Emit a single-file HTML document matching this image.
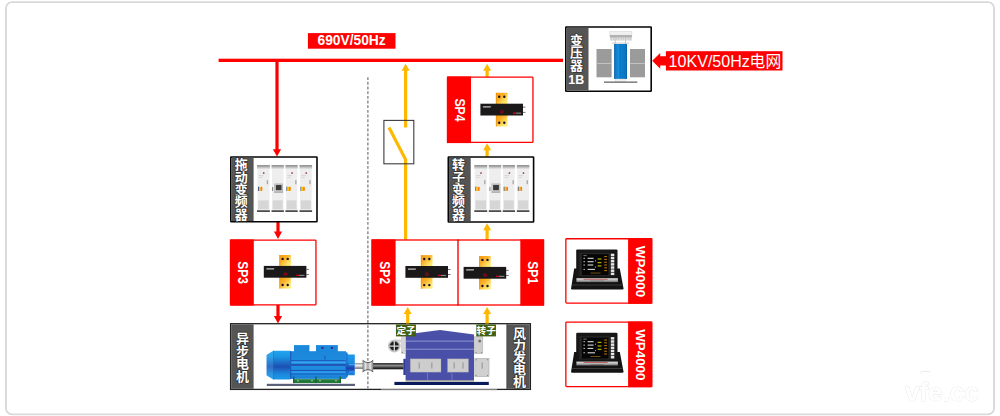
<!DOCTYPE html>
<html lang="zh"><head><meta charset="utf-8"><title>Wind power generator test bench diagram</title>
<style>html,body{margin:0;padding:0;background:#fff}body{width:1000px;height:416px;overflow:hidden;font-family:"Liberation Sans","Noto Sans CJK SC",sans-serif}svg{display:block}text{font-family:"Liberation Sans","Noto Sans CJK SC",sans-serif}</style>
</head><body>
<svg width="1000" height="416" viewBox="0 0 1000 416">
<defs>
<linearGradient id="gold" x1="0" y1="0" x2="1" y2="1">
<stop offset="0" stop-color="#f59a0e"/><stop offset="0.4" stop-color="#fbb22a"/><stop offset="0.7" stop-color="#ffdf62"/><stop offset="1" stop-color="#fff284"/></linearGradient>
<linearGradient id="silver" x1="0" y1="0" x2="0" y2="1"><stop offset="0" stop-color="#e4e4e4"/><stop offset="0.5" stop-color="#b4b4b4"/><stop offset="1" stop-color="#6e6e6e"/></linearGradient>
<linearGradient id="cap" x1="0" y1="0" x2="0" y2="1"><stop offset="0" stop-color="#22a4ee"/><stop offset="0.22" stop-color="#1c93e2"/><stop offset="0.55" stop-color="#1d4fb2"/><stop offset="0.8" stop-color="#1b86dc"/><stop offset="1" stop-color="#1a9ae6"/></linearGradient>
<linearGradient id="mbody" x1="0" y1="0" x2="0" y2="1"><stop offset="0" stop-color="#1b86da"/><stop offset="0.5" stop-color="#1f8de0"/><stop offset="1" stop-color="#1a82d6"/></linearGradient>
<linearGradient id="shaftL" x1="0" y1="0" x2="0" y2="1"><stop offset="0" stop-color="#8a8a8a"/><stop offset="0.4" stop-color="#f4f4f4"/><stop offset="1" stop-color="#6e6e6e"/></linearGradient>
<linearGradient id="shaftD" x1="0" y1="0" x2="0" y2="1"><stop offset="0" stop-color="#1a1a1a"/><stop offset="0.45" stop-color="#9a9a9a"/><stop offset="0.6" stop-color="#555"/><stop offset="1" stop-color="#0c0c0c"/></linearGradient>
<linearGradient id="flange" x1="0" y1="0" x2="0" y2="1"><stop offset="0" stop-color="#1d9ff0"/><stop offset="0.4" stop-color="#1b8ee2"/><stop offset="0.62" stop-color="#1c3fb0"/><stop offset="0.78" stop-color="#1b7ad6"/><stop offset="1" stop-color="#1a98e8"/></linearGradient>
<linearGradient id="coup" x1="0" y1="0" x2="1" y2="0"><stop offset="0" stop-color="#7a7a7a"/><stop offset="0.28" stop-color="#e8e8e8"/><stop offset="0.5" stop-color="#a4a4a4"/><stop offset="0.72" stop-color="#e8e8e8"/><stop offset="1" stop-color="#7a7a7a"/></linearGradient>
<linearGradient id="bluecol" x1="0" y1="0" x2="1" y2="0"><stop offset="0" stop-color="#085a9c"/><stop offset="0.1" stop-color="#0a7ac8"/><stop offset="0.35" stop-color="#1a8fdc"/><stop offset="0.52" stop-color="#0c7ecc"/><stop offset="0.9" stop-color="#0876c2"/><stop offset="1" stop-color="#075a98"/></linearGradient>


<symbol id="sensor" overflow="visible">
  <rect x="-5.8" y="-16.8" width="11.6" height="12" fill="url(#gold)"/>
  <rect x="-5.8" y="4.8" width="11.6" height="12" fill="url(#gold)"/>
  <rect x="-5.8" y="-16.8" width="1" height="33.6" fill="#f08c08" opacity="0.6"/>
  <circle cx="-2.5" cy="-12.9" r="1.2" fill="#10102a"/><circle cx="2.6" cy="-12.9" r="1.2" fill="#10102a"/>
  <circle cx="-2.5" cy="13.2" r="1.2" fill="#10102a"/><circle cx="2.6" cy="13.2" r="1.2" fill="#10102a"/>
  <rect x="21.2" y="-2.9" width="2.6" height="0.8" fill="#555"/><rect x="21.2" y="2.3" width="2.6" height="0.8" fill="#555"/>
  <rect x="-21.3" y="-5.9" width="42.6" height="11.8" fill="#1b1819"/>
  <path d="M-18.9 -2.2h7.8l.4-1.25h-7.8z" fill="#e2e2e2" opacity="0.85"/>
  <circle cx="0.2" cy="2.3" r="1.35" fill="none" stroke="#c4001a" stroke-width="0.75"/>
  <rect x="11.2" y="2.9" width="2.6" height="1.3" fill="#e00018"/>
  <rect x="14" y="3" width="5.4" height="1.1" fill="#8a8a8a"/>
</symbol>
</defs>
<rect x="6" y="2.1" width="988" height="412.3" rx="6" ry="6" fill="#fff" stroke="#d9d9d9" stroke-width="1.9"/>
<text x="905" y="401" font-size="26" font-weight="bold" fill="#ffffff" stroke="#f1f1f1" stroke-width="0.5" style="paint-order:stroke;filter:drop-shadow(0.9px 0.9px 0.4px #dcdcdc)">vfe.cc</text>
<path d="M920.5 372.2Q925 370.4 930 371.8" fill="none" stroke="#e6e6e6" stroke-width="0.9"/>
<line x1="367.9" y1="77.2" x2="367.9" y2="388" stroke="#6e6e6e" stroke-width="1.15" stroke-dasharray="2.9 1.77"/>
<rect x="218.60" y="58.70" width="344.40" height="3.30" fill="#ff0000" />
<rect x="307.90" y="33.10" width="87.60" height="15.60" fill="#ff0000" />
<text x="351.6" y="45.4" text-anchor="middle" font-size="13.8" font-weight="bold" fill="#fff">690V/50Hz</text>
<path fill="#ff0000" d="M277.00 156.60L281.10 149.20H278.60V61.00H275.40V149.20H272.90Z"/>
<path fill="#ff0000" d="M278.00 239.00L282.10 231.60H279.60V222.00H276.40V231.60H273.90Z"/>
<path fill="#ff0000" d="M278.00 323.40L282.10 316.00H279.60V305.00H276.40V316.00H273.90Z"/>
<rect x="230.80" y="157.00" width="86.20" height="64.80" fill="#fff" stroke="#050505" stroke-width="1.6" rx="0.5"/><rect x="231.55" y="157.80" width="22.05" height="63.20" fill="#555555" />
<g transform="translate(0 0)"><rect x="257.00" y="165.10" width="12.90" height="1.70" fill="#8c8c8c" /><rect x="257.00" y="166.80" width="12.90" height="1.90" fill="#c4c4c4" /><rect x="257.40" y="168.70" width="12.10" height="41.60" fill="#eeeeee" /><rect x="258.20" y="200.40" width="10.50" height="8.80" fill="#d6d6d6" /><rect x="257.00" y="210.30" width="12.90" height="1.60" fill="#3a3a3a" /><circle cx="263.70" cy="173" r="0.85" fill="#8a1f35"/><rect x="258.80" y="175.40" width="4.60" height="0.70" fill="#c9c9c9" /><rect x="258.80" y="177.00" width="3.40" height="0.70" fill="#cfcfcf" /><rect x="266.80" y="180.20" width="1.30" height="4.00" fill="#a5a5a5" /><rect x="258.00" y="186.70" width="1.00" height="4.30" fill="#4a5a7a" /><rect x="259.00" y="186.70" width="1.60" height="4.30" fill="#ffc400" /><rect x="260.60" y="186.90" width="1.70" height="3.90" fill="#ff7a00" /><rect x="271.50" y="165.10" width="12.40" height="1.70" fill="#8c8c8c" /><rect x="271.50" y="166.80" width="12.40" height="1.90" fill="#c4c4c4" /><rect x="271.90" y="168.70" width="11.60" height="41.60" fill="#eeeeee" /><rect x="272.70" y="200.40" width="10.00" height="8.80" fill="#d6d6d6" /><rect x="271.50" y="210.30" width="12.40" height="1.60" fill="#3a3a3a" /><rect x="272.20" y="187.00" width="0.90" height="4.00" fill="#777" /><rect x="274.20" y="183.50" width="8.80" height="9.50" fill="#b4b4b4" /><rect x="275.10" y="184.40" width="7.00" height="6.80" fill="#e2e2e2" /><rect x="275.80" y="184.90" width="5.80" height="5.40" fill="#3a3a3a" /><rect x="285.40" y="165.10" width="12.30" height="1.70" fill="#8c8c8c" /><rect x="285.40" y="166.80" width="12.30" height="1.90" fill="#c4c4c4" /><rect x="285.80" y="168.70" width="11.50" height="41.60" fill="#eeeeee" /><rect x="286.60" y="200.40" width="9.90" height="8.80" fill="#d6d6d6" /><rect x="285.40" y="210.30" width="12.30" height="1.60" fill="#3a3a3a" /><circle cx="292.10" cy="173" r="0.85" fill="#8a1f35"/><rect x="287.20" y="175.40" width="4.60" height="0.70" fill="#c9c9c9" /><rect x="287.20" y="177.00" width="3.40" height="0.70" fill="#cfcfcf" /><rect x="295.20" y="180.20" width="1.30" height="4.00" fill="#a5a5a5" /><rect x="286.40" y="186.70" width="1.00" height="4.30" fill="#4a5a7a" /><rect x="287.40" y="186.70" width="1.60" height="4.30" fill="#ffc400" /><rect x="289.00" y="186.90" width="1.70" height="3.90" fill="#ff7a00" /><rect x="299.50" y="165.10" width="12.60" height="1.70" fill="#8c8c8c" /><rect x="299.50" y="166.80" width="12.60" height="1.90" fill="#c4c4c4" /><rect x="299.90" y="168.70" width="11.80" height="41.60" fill="#eeeeee" /><rect x="300.70" y="200.40" width="10.20" height="8.80" fill="#d6d6d6" /><rect x="299.50" y="210.30" width="12.60" height="1.60" fill="#3a3a3a" /><circle cx="306.20" cy="173" r="0.85" fill="#8a1f35"/><rect x="301.30" y="175.40" width="4.60" height="0.70" fill="#c9c9c9" /><rect x="301.30" y="177.00" width="3.40" height="0.70" fill="#cfcfcf" /><rect x="309.30" y="180.20" width="1.30" height="4.00" fill="#a5a5a5" /><rect x="300.50" y="186.70" width="1.00" height="4.30" fill="#4a5a7a" /><rect x="301.50" y="186.70" width="1.60" height="4.30" fill="#ffc400" /><rect x="303.10" y="186.90" width="1.70" height="3.90" fill="#ff7a00" /></g>
<text text-anchor="middle" font-size="13" font-weight="bold" fill="#fff" stroke="#2a2a2a" stroke-opacity="0.75" stroke-width="1.7" stroke-linejoin="round" style="paint-order:stroke"><tspan x="241.35" y="169.45">拖</tspan><tspan x="241.35" y="181.75">动</tspan><tspan x="241.35" y="194.05">变</tspan><tspan x="241.35" y="206.35">频</tspan><tspan x="241.35" y="218.65">器</tspan></text>
<rect x="230.55" y="240.05" width="85.40" height="64.90" fill="#fff" stroke="#ff0000" stroke-width="1.3" rx="0.8"/><rect x="229.90" y="239.40" width="23.90" height="66.20" fill="#ff0000" />
<text transform="translate(238.00 272.60) rotate(90) scale(0.900 1.085)" text-anchor="middle" font-size="13.4" font-weight="bold" fill="#fff">SP3</text>
<use href="#sensor" x="285.1" y="271.8"/>
<rect x="230.60" y="323.70" width="299.80" height="65.70" fill="#fff" stroke="#222" stroke-width="1.3"/>
<rect x="231.20" y="324.30" width="22.40" height="64.50" fill="#555555" />
<rect x="507.30" y="324.30" width="22.50" height="64.50" fill="#555555" />
<rect x="506.50" y="324.30" width="1.00" height="64.50" fill="#1a1a1a" />
<text text-anchor="middle" font-size="13" font-weight="bold" fill="#fff" stroke="#2a2a2a" stroke-opacity="0.75" stroke-width="1.7" stroke-linejoin="round" style="paint-order:stroke"><tspan x="242.5" y="343.15">异</tspan><tspan x="242.5" y="355.75">步</tspan><tspan x="242.5" y="368.35">电</tspan><tspan x="242.5" y="380.95">机</tspan></text>
<text text-anchor="middle" font-size="13" font-weight="bold" fill="#fff" stroke="#2a2a2a" stroke-opacity="0.75" stroke-width="1.7" stroke-linejoin="round" style="paint-order:stroke"><tspan x="519.6" y="337.5">风</tspan><tspan x="519.6" y="349.5">力</tspan><tspan x="519.6" y="361.5">发</tspan><tspan x="519.6" y="373.5">电</tspan><tspan x="519.6" y="385.5">机</tspan></text>
<line x1="367.9" y1="325.2" x2="367.9" y2="388.5" stroke="#6e6e6e" stroke-width="1.15" stroke-dasharray="2.9 1.77"/>
<rect x="381.00" y="388.75" width="116.00" height="0.50" fill="#fff" />
<rect x="381.00" y="389.25" width="116.00" height="0.85" fill="#8a8a8a" />
<g>
<rect x="294.00" y="345.10" width="15.40" height="6.90" fill="#1c88dc" />
<rect x="316.00" y="345.10" width="21.80" height="6.90" fill="#1c88dc" />
<rect x="294.00" y="345.10" width="15.40" height="0.80" fill="#2a98e6" />
<rect x="316.00" y="345.10" width="21.80" height="0.80" fill="#2a98e6" />
<circle cx="322.5" cy="347.9" r="1.15" fill="#3f1f72"/><circle cx="331.9" cy="347.9" r="1.15" fill="#3f1f72"/>
<path d="M266.6 355.4Q266.6 354.9 267.2 354.5L273.4 350.7H290.2V379.6H273.4L267.2 375.8Q266.6 375.4 266.6 374.8Z" fill="url(#cap)"/>
<path d="M266.6 355.4Q266.6 354.9 267.2 354.5L273.4 350.7V379.6L267.2 375.8Q266.6 375.4 266.6 374.8Z" fill="#5cc0f8" opacity="0.28"/>
<rect x="273.20" y="350.70" width="0.70" height="28.90" fill="#1560b8" opacity="0.5"/>
<rect x="290.00" y="351.20" width="56.00" height="27.70" fill="url(#mbody)" />
<rect x="290.00" y="360.30" width="56.40" height="0.90" fill="#1b4cb4" />
<rect x="290.00" y="361.40" width="56.40" height="1.80" fill="#34a2ee" />
<rect x="290.00" y="364.30" width="56.40" height="1.30" fill="#26389c" />
<rect x="290.00" y="370.00" width="56.40" height="0.90" fill="#1b4cb4" />
<rect x="290.00" y="371.10" width="56.40" height="1.80" fill="#2e9cea" />
<rect x="290.00" y="373.60" width="56.40" height="0.80" fill="#1b58bc" />
<rect x="290.00" y="351.20" width="1.30" height="27.70" fill="#1a5fc0" />
<rect x="324.50" y="355.80" width="0.80" height="3.80" fill="#1c46a8" />
<path d="M345.6 351.2L348.2 354.6H354.8V375.3H348.2L345.6 378.9Z" fill="url(#flange)"/>
<rect x="346.20" y="352.40" width="1.40" height="25.20" fill="#1b58bc" opacity="0.55"/>
<rect x="349.20" y="364.20" width="5.60" height="1.00" fill="#4ab0f2" />
<rect x="349.20" y="371.40" width="5.60" height="0.90" fill="#3ea6ee" />
<rect x="293.00" y="379.20" width="48.00" height="3.90" fill="#1f7a3a" />
<rect x="293.00" y="376.60" width="1.40" height="6.50" fill="#14662c" />
<rect x="315.20" y="376.60" width="1.40" height="6.50" fill="#14662c" />
<rect x="339.60" y="376.60" width="1.40" height="6.50" fill="#14662c" />
<rect x="297.00" y="380.40" width="2.00" height="0.80" fill="#d8c8b0" />
<rect x="311.00" y="380.40" width="2.00" height="0.80" fill="#d8c8b0" />
<rect x="319.00" y="380.40" width="2.00" height="0.80" fill="#d8c8b0" />
<rect x="335.00" y="380.40" width="2.00" height="0.80" fill="#d8c8b0" />
<rect x="266.80" y="383.80" width="88.20" height="2.20" fill="#5a6078" />
<rect x="354.90" y="363.10" width="8.50" height="5.80" fill="url(#shaftL)" />
<rect x="372.60" y="363.10" width="31.00" height="6.20" fill="url(#shaftD)" />
<path d="M362.6 360.3Q367.9 365.0 373.2 360.3V371.9Q367.9 367.4 362.6 371.9Z" fill="url(#coup)"/>
<path d="M362.6 360.3Q367.9 365.0 373.2 360.3M362.6 371.9Q367.9 367.4 373.2 371.9" fill="none" stroke="#4c4c4c" stroke-width="0.9"/>
</g>
<g>
<rect x="394.40" y="381.90" width="94.40" height="3.10" fill="#0a1a5a" />
<rect x="405.60" y="380.00" width="68.40" height="1.60" fill="#9a9a9a" />
<path d="M405.6 334.4L440 330L474 334.6V380H405.6Z" fill="#4a50a8"/>
<rect x="405.60" y="340.50" width="68.40" height="1.30" fill="#7e84cc" />
<rect x="405.60" y="348.60" width="68.40" height="1.30" fill="#7e84cc" />
<rect x="403.40" y="358.80" width="2.40" height="16.20" fill="#2a3a9a" />
<rect x="401.40" y="336.60" width="4.20" height="17.00" fill="#d6d6d6" stroke="#b4b4b4" stroke-width="0.4"/>
<rect x="474.60" y="336.80" width="8.20" height="16.80" fill="#cfcfcf" stroke="#a8a8a8" stroke-width="0.5"/>
<circle cx="479.7" cy="340.9" r="1.5" fill="#777"/>
<rect x="410.30" y="358.80" width="30.70" height="13.40" fill="#cdcdcd" stroke="#9a9a9a" stroke-width="0.6" stroke-dasharray="1 1.6"/>
<rect x="447.50" y="358.80" width="21.00" height="13.40" fill="#cdcdcd" stroke="#9a9a9a" stroke-width="0.6" stroke-dasharray="1 1.6"/>
<rect x="474.80" y="358.40" width="14.20" height="18.20" fill="#d0d0d0" stroke="#b2b2b2" stroke-width="0.7"/>
<circle cx="476.2" cy="359.8" r="0.55" fill="#6a6a6a"/>
<circle cx="487.6" cy="359.8" r="0.55" fill="#6a6a6a"/>
<circle cx="476.2" cy="375.2" r="0.55" fill="#6a6a6a"/>
<circle cx="487.6" cy="375.2" r="0.55" fill="#6a6a6a"/>
<circle cx="476.0" cy="352.2" r="0.55" fill="#6a6a6a"/>
<circle cx="481.4" cy="352.2" r="0.55" fill="#6a6a6a"/>
<circle cx="402.3" cy="352.2" r="0.55" fill="#6a6a6a"/>
<rect x="418.60" y="362.40" width="1.20" height="6.20" fill="#9c9c9c" />
<rect x="431.20" y="362.40" width="1.20" height="6.20" fill="#9c9c9c" />
<rect x="453.60" y="362.40" width="1.20" height="6.20" fill="#9c9c9c" />
<rect x="462.40" y="362.40" width="1.20" height="6.20" fill="#9c9c9c" />
<rect x="481.60" y="362.40" width="1.20" height="6.20" fill="#9c9c9c" />
<rect x="427.20" y="372.40" width="0.80" height="7.60" fill="#7a80c4" />
<rect x="451.60" y="372.40" width="0.80" height="7.60" fill="#7a80c4" />
<path d="M394.3 339.5L401.4 339.4V343Z" fill="#d4d4d4"/>
<circle cx="394.3" cy="346" r="6.4" fill="#c9c9c9"/>
<circle cx="394.3" cy="346" r="4.7" fill="#1e1e1e" stroke="#8c8c8c" stroke-width="0.6"/>
<path d="M394.3 341.1V350.9M389.4 346H399.2" stroke="#dcdcdc" stroke-width="1.25"/>
</g>
<rect x="395.95" y="324.45" width="19.95" height="11.95" fill="#41600f" />
<text x="396.4" y="334.05" font-size="9.6" font-weight="bold" fill="#fff">定子</text>
<rect x="476.30" y="324.45" width="19.65" height="11.95" fill="#41600f" />
<text x="476.6" y="334.05" font-size="9.6" font-weight="bold" fill="#fff">转子</text>
<path fill="#ffb800" d="M405.60 63.80L409.60 70.80H407.20V127.40H404.00V70.80H401.60Z"/>
<path d="M389 127.6L405.6 159.6V239.6" fill="none" stroke="#ffb800" stroke-width="3.2" stroke-linejoin="miter"/>
<rect x="383.90" y="120.40" width="29.90" height="43.40" fill="none" stroke="#3c3c3c" stroke-width="1.1"/>
<path fill="#ffb800" d="M487.10 63.80L491.10 70.80H488.70V77.00H485.50V70.80H483.10Z"/>
<path fill="#ffb800" d="M487.10 143.20L491.10 150.20H488.70V156.80H485.50V150.20H483.10Z"/>
<path fill="#ffb800" d="M487.10 223.20L491.10 230.20H488.70V240.00H485.50V230.20H483.10Z"/>
<path fill="#ffb800" d="M407.70 306.90L411.70 313.90H409.30V323.60H406.10V313.90H403.70Z"/>
<path fill="#ffb800" d="M487.10 306.90L491.10 313.90H488.70V323.60H485.50V313.90H483.10Z"/>
<rect x="447.55" y="77.15" width="85.40" height="65.30" fill="#fff" stroke="#ff0000" stroke-width="1.3" rx="0.8"/><rect x="446.90" y="76.50" width="24.10" height="66.60" fill="#ff0000" />
<text transform="translate(454.70 109.95) rotate(90) scale(0.910 1.085)" text-anchor="middle" font-size="13.4" font-weight="bold" fill="#fff">SP4</text>
<use href="#sensor" x="501.7" y="109.6"/>
<rect x="448.30" y="157.00" width="85.30" height="65.00" fill="#fff" stroke="#050505" stroke-width="1.6" rx="0.5"/><rect x="449.05" y="157.80" width="21.65" height="63.40" fill="#555555" />
<g transform="translate(217.3 0)"><rect x="257.00" y="165.10" width="12.90" height="1.70" fill="#8c8c8c" /><rect x="257.00" y="166.80" width="12.90" height="1.90" fill="#c4c4c4" /><rect x="257.40" y="168.70" width="12.10" height="41.60" fill="#eeeeee" /><rect x="258.20" y="200.40" width="10.50" height="8.80" fill="#d6d6d6" /><rect x="257.00" y="210.30" width="12.90" height="1.60" fill="#3a3a3a" /><circle cx="263.70" cy="173" r="0.85" fill="#8a1f35"/><rect x="258.80" y="175.40" width="4.60" height="0.70" fill="#c9c9c9" /><rect x="258.80" y="177.00" width="3.40" height="0.70" fill="#cfcfcf" /><rect x="266.80" y="180.20" width="1.30" height="4.00" fill="#a5a5a5" /><rect x="258.00" y="186.70" width="1.00" height="4.30" fill="#4a5a7a" /><rect x="259.00" y="186.70" width="1.60" height="4.30" fill="#ffc400" /><rect x="260.60" y="186.90" width="1.70" height="3.90" fill="#ff7a00" /><rect x="271.50" y="165.10" width="12.40" height="1.70" fill="#8c8c8c" /><rect x="271.50" y="166.80" width="12.40" height="1.90" fill="#c4c4c4" /><rect x="271.90" y="168.70" width="11.60" height="41.60" fill="#eeeeee" /><rect x="272.70" y="200.40" width="10.00" height="8.80" fill="#d6d6d6" /><rect x="271.50" y="210.30" width="12.40" height="1.60" fill="#3a3a3a" /><rect x="272.20" y="187.00" width="0.90" height="4.00" fill="#777" /><rect x="274.20" y="183.50" width="8.80" height="9.50" fill="#b4b4b4" /><rect x="275.10" y="184.40" width="7.00" height="6.80" fill="#e2e2e2" /><rect x="275.80" y="184.90" width="5.80" height="5.40" fill="#3a3a3a" /><rect x="285.40" y="165.10" width="12.30" height="1.70" fill="#8c8c8c" /><rect x="285.40" y="166.80" width="12.30" height="1.90" fill="#c4c4c4" /><rect x="285.80" y="168.70" width="11.50" height="41.60" fill="#eeeeee" /><rect x="286.60" y="200.40" width="9.90" height="8.80" fill="#d6d6d6" /><rect x="285.40" y="210.30" width="12.30" height="1.60" fill="#3a3a3a" /><circle cx="292.10" cy="173" r="0.85" fill="#8a1f35"/><rect x="287.20" y="175.40" width="4.60" height="0.70" fill="#c9c9c9" /><rect x="287.20" y="177.00" width="3.40" height="0.70" fill="#cfcfcf" /><rect x="295.20" y="180.20" width="1.30" height="4.00" fill="#a5a5a5" /><rect x="286.40" y="186.70" width="1.00" height="4.30" fill="#4a5a7a" /><rect x="287.40" y="186.70" width="1.60" height="4.30" fill="#ffc400" /><rect x="289.00" y="186.90" width="1.70" height="3.90" fill="#ff7a00" /><rect x="299.50" y="165.10" width="12.60" height="1.70" fill="#8c8c8c" /><rect x="299.50" y="166.80" width="12.60" height="1.90" fill="#c4c4c4" /><rect x="299.90" y="168.70" width="11.80" height="41.60" fill="#eeeeee" /><rect x="300.70" y="200.40" width="10.20" height="8.80" fill="#d6d6d6" /><rect x="299.50" y="210.30" width="12.60" height="1.60" fill="#3a3a3a" /><circle cx="306.20" cy="173" r="0.85" fill="#8a1f35"/><rect x="301.30" y="175.40" width="4.60" height="0.70" fill="#c9c9c9" /><rect x="301.30" y="177.00" width="3.40" height="0.70" fill="#cfcfcf" /><rect x="309.30" y="180.20" width="1.30" height="4.00" fill="#a5a5a5" /><rect x="300.50" y="186.70" width="1.00" height="4.30" fill="#4a5a7a" /><rect x="301.50" y="186.70" width="1.60" height="4.30" fill="#ffc400" /><rect x="303.10" y="186.90" width="1.70" height="3.90" fill="#ff7a00" /></g>
<text text-anchor="middle" font-size="13" font-weight="bold" fill="#fff" stroke="#2a2a2a" stroke-opacity="0.75" stroke-width="1.7" stroke-linejoin="round" style="paint-order:stroke"><tspan x="458.6" y="169.45">转</tspan><tspan x="458.6" y="181.75">子</tspan><tspan x="458.6" y="194.05">变</tspan><tspan x="458.6" y="206.35">频</tspan><tspan x="458.6" y="218.65">器</tspan></text>
<rect x="372.10" y="240.00" width="171.40" height="65.00" fill="#fff" stroke="#ff0000" stroke-width="1.3"/>
<rect x="371.50" y="239.40" width="24.10" height="66.20" fill="#ff0000" />
<rect x="520.30" y="239.40" width="23.80" height="66.20" fill="#ff0000" />
<rect x="457.30" y="239.40" width="1.40" height="66.20" fill="#ff0000" />
<text transform="translate(379.80 272.70) rotate(90) scale(0.900 1.085)" text-anchor="middle" font-size="13.4" font-weight="bold" fill="#fff">SP2</text>
<text transform="translate(528.00 272.70) rotate(90) scale(0.900 1.085)" text-anchor="middle" font-size="13.4" font-weight="bold" fill="#fff">SP1</text>
<use href="#sensor" x="426.7" y="271.9"/>
<use href="#sensor" x="484.9" y="272.8"/>
<rect x="565.80" y="27.00" width="85.40" height="64.20" fill="#fff" stroke="#050505" stroke-width="1.6" rx="0.5"/><rect x="566.55" y="27.80" width="21.95" height="62.60" fill="#555555" />
<text text-anchor="middle" font-size="13" font-weight="bold" fill="#fff" stroke="#2a2a2a" stroke-opacity="0.75" stroke-width="1.7" stroke-linejoin="round" style="paint-order:stroke"><tspan x="576.5" y="44.6">变</tspan><tspan x="576.5" y="57.1">压</tspan><tspan x="576.5" y="69.6">器</tspan></text>
<text x="576.2" y="83.6" text-anchor="middle" font-size="12.4" font-weight="bold" fill="#fff">1B</text>
<g>
<rect x="609.80" y="31.30" width="22.10" height="3.90" fill="#f0f0f0" stroke="#d4d4d4" stroke-width="0.5"/>
<rect x="609.80" y="35.00" width="22.10" height="2.80" fill="#b2b2b2" />
<rect x="609.80" y="37.80" width="22.10" height="2.80" fill="#dedede" />
<rect x="611.20" y="37.40" width="0.60" height="3.00" fill="#c2c2c2" />
<rect x="613.60" y="37.40" width="0.60" height="3.00" fill="#c2c2c2" />
<rect x="616.00" y="37.40" width="0.60" height="3.00" fill="#c2c2c2" />
<rect x="618.40" y="37.40" width="0.60" height="3.00" fill="#c2c2c2" />
<rect x="620.80" y="37.40" width="0.60" height="3.00" fill="#c2c2c2" />
<rect x="623.20" y="37.40" width="0.60" height="3.00" fill="#c2c2c2" />
<rect x="625.60" y="37.40" width="0.60" height="3.00" fill="#c2c2c2" />
<rect x="628.00" y="37.40" width="0.60" height="3.00" fill="#c2c2c2" />
<rect x="630.40" y="37.40" width="0.60" height="3.00" fill="#c2c2c2" />
<rect x="614.70" y="37.20" width="0.90" height="6.80" fill="#c4c4c4" />
<rect x="625.10" y="37.20" width="0.90" height="6.80" fill="#c4c4c4" />
<rect x="612.00" y="42.70" width="17.00" height="0.70" fill="#b5b5b5" />
<rect x="596.50" y="49.00" width="15.10" height="28.30" fill="#9b9b9b" />
<rect x="630.00" y="49.00" width="15.00" height="28.30" fill="#9b9b9b" />
<rect x="596.50" y="63.00" width="15.10" height="1.00" fill="#c2c2c2" />
<rect x="630.00" y="63.00" width="15.00" height="1.00" fill="#c2c2c2" />
<rect x="614.10" y="44.00" width="12.90" height="35.00" fill="url(#bluecol)" />
<rect x="619.60" y="44.00" width="0.60" height="35.00" fill="#0a68b4" />
<rect x="615.40" y="79.00" width="10.10" height="2.50" fill="#f2f2f2" stroke="#ccc" stroke-width="0.4"/>
<rect x="604.00" y="81.50" width="33.30" height="1.30" fill="#666" />
</g>
<path fill="#ff0000" d="M652.2 60.7L660.2 53V56.3H666.4V65.6H660.2V68.8Z"/>
<rect x="665.90" y="51.20" width="116.60" height="19.30" fill="#ff0000" />
<text x="668.6" y="66.5" font-size="15.6" fill="#fff" textLength="81.3" lengthAdjust="spacingAndGlyphs">10KV/50Hz</text>
<text x="749.6" y="67" font-size="15.8" fill="#fff">电网</text>
<rect x="565.85" y="238.75" width="85.80" height="64.40" fill="#fff" stroke="#ff0000" stroke-width="1.3" rx="0.8"/><rect x="628.10" y="238.10" width="24.20" height="65.70" fill="#ff0000" />
<g transform="translate(0 0)"><path d="M574.2 268.6H619.8L623.5 288.2Q623.6 289.4 622.4 289.4H572.2Q571 289.4 571.1 288.2Z" fill="#131313"/><path d="M572.3 284.6H622.3L622.6 285.6H572.1Z" fill="#3a3a3a"/><rect x="576.2" y="249.4" width="41.3" height="28" rx="1.2" fill="#171717"/><rect x="579.4" y="252.8" width="30.2" height="23.2" fill="#262626"/><rect x="581.8" y="254.2" width="26.6" height="20.9" fill="#050505"/><rect x="587.60" y="257.75" width="6.00" height="1.10" fill="#d6d6d6" /><rect x="583.40" y="257.80" width="1.60" height="1.00" fill="#bdbdbd" /><rect x="587.60" y="261.15" width="6.00" height="1.10" fill="#d6d6d6" /><rect x="583.40" y="261.20" width="1.60" height="1.00" fill="#bdbdbd" /><rect x="587.60" y="264.45" width="5.60" height="1.10" fill="#d6d6d6" /><rect x="583.40" y="264.50" width="1.60" height="1.00" fill="#bdbdbd" /><rect x="587.60" y="268.85" width="7.40" height="1.10" fill="#d6d6d6" /><rect x="583.40" y="268.90" width="1.60" height="1.00" fill="#bdbdbd" /><rect x="583.40" y="255.30" width="3.20" height="0.80" fill="#999" /><rect x="597.60" y="258.40" width="3.80" height="1.20" fill="#b8b000" /><rect x="597.60" y="262.00" width="3.80" height="1.20" fill="#b8b000" /><rect x="597.60" y="265.30" width="3.80" height="1.20" fill="#b8b000" /><rect x="595.00" y="260.20" width="0.90" height="1.20" fill="#c8c000" /><rect x="595.00" y="266.60" width="0.90" height="1.20" fill="#c8c000" /><rect x="604.20" y="256.10" width="2.80" height="1.00" fill="#c07a00" /><rect x="604.20" y="258.90" width="2.80" height="1.00" fill="#c07a00" /><rect x="604.20" y="261.70" width="2.80" height="1.00" fill="#c07a00" /><rect x="604.20" y="264.50" width="2.80" height="1.00" fill="#c07a00" /><rect x="604.20" y="267.30" width="2.80" height="1.00" fill="#c07a00" /><rect x="604.20" y="270.10" width="2.80" height="1.00" fill="#c07a00" /><rect x="590.50" y="272.60" width="10.00" height="0.90" fill="#7a5a10" /><rect x="610.80" y="253.70" width="3.50" height="2.50" fill="#e6e6e6" /><rect x="610.80" y="256.85" width="3.50" height="2.50" fill="#e6e6e6" /><rect x="610.80" y="260.00" width="3.50" height="2.50" fill="#e6e6e6" /><rect x="610.80" y="263.15" width="3.50" height="2.50" fill="#e6e6e6" /><rect x="610.80" y="266.30" width="3.50" height="2.50" fill="#e6e6e6" /><rect x="610.80" y="269.45" width="3.50" height="2.50" fill="#e6e6e6" /><rect x="610.80" y="272.60" width="3.50" height="2.50" fill="#e6e6e6" /><rect x="576.4" y="278.2" width="41.5" height="3.9" fill="url(#silver)"/><rect x="583.60" y="278.80" width="24.10" height="0.80" fill="#b84a4a" /><rect x="590.00" y="280.60" width="14.00" height="0.90" fill="#777" /></g>
<text transform="translate(635.85 271.45) rotate(90) scale(1.022 1.010)" text-anchor="middle" font-size="13.1" font-weight="bold" fill="#fff">WP4000</text>
<rect x="565.85" y="322.15" width="85.80" height="64.40" fill="#fff" stroke="#ff0000" stroke-width="1.3" rx="0.8"/><rect x="628.10" y="321.50" width="24.20" height="65.70" fill="#ff0000" />
<g transform="translate(0 83.4)"><path d="M574.2 268.6H619.8L623.5 288.2Q623.6 289.4 622.4 289.4H572.2Q571 289.4 571.1 288.2Z" fill="#131313"/><path d="M572.3 284.6H622.3L622.6 285.6H572.1Z" fill="#3a3a3a"/><rect x="576.2" y="249.4" width="41.3" height="28" rx="1.2" fill="#171717"/><rect x="579.4" y="252.8" width="30.2" height="23.2" fill="#262626"/><rect x="581.8" y="254.2" width="26.6" height="20.9" fill="#050505"/><rect x="587.60" y="257.75" width="6.00" height="1.10" fill="#d6d6d6" /><rect x="583.40" y="257.80" width="1.60" height="1.00" fill="#bdbdbd" /><rect x="587.60" y="261.15" width="6.00" height="1.10" fill="#d6d6d6" /><rect x="583.40" y="261.20" width="1.60" height="1.00" fill="#bdbdbd" /><rect x="587.60" y="264.45" width="5.60" height="1.10" fill="#d6d6d6" /><rect x="583.40" y="264.50" width="1.60" height="1.00" fill="#bdbdbd" /><rect x="587.60" y="268.85" width="7.40" height="1.10" fill="#d6d6d6" /><rect x="583.40" y="268.90" width="1.60" height="1.00" fill="#bdbdbd" /><rect x="583.40" y="255.30" width="3.20" height="0.80" fill="#999" /><rect x="597.60" y="258.40" width="3.80" height="1.20" fill="#b8b000" /><rect x="597.60" y="262.00" width="3.80" height="1.20" fill="#b8b000" /><rect x="597.60" y="265.30" width="3.80" height="1.20" fill="#b8b000" /><rect x="595.00" y="260.20" width="0.90" height="1.20" fill="#c8c000" /><rect x="595.00" y="266.60" width="0.90" height="1.20" fill="#c8c000" /><rect x="604.20" y="256.10" width="2.80" height="1.00" fill="#c07a00" /><rect x="604.20" y="258.90" width="2.80" height="1.00" fill="#c07a00" /><rect x="604.20" y="261.70" width="2.80" height="1.00" fill="#c07a00" /><rect x="604.20" y="264.50" width="2.80" height="1.00" fill="#c07a00" /><rect x="604.20" y="267.30" width="2.80" height="1.00" fill="#c07a00" /><rect x="604.20" y="270.10" width="2.80" height="1.00" fill="#c07a00" /><rect x="590.50" y="272.60" width="10.00" height="0.90" fill="#7a5a10" /><rect x="610.80" y="253.70" width="3.50" height="2.50" fill="#e6e6e6" /><rect x="610.80" y="256.85" width="3.50" height="2.50" fill="#e6e6e6" /><rect x="610.80" y="260.00" width="3.50" height="2.50" fill="#e6e6e6" /><rect x="610.80" y="263.15" width="3.50" height="2.50" fill="#e6e6e6" /><rect x="610.80" y="266.30" width="3.50" height="2.50" fill="#e6e6e6" /><rect x="610.80" y="269.45" width="3.50" height="2.50" fill="#e6e6e6" /><rect x="610.80" y="272.60" width="3.50" height="2.50" fill="#e6e6e6" /><rect x="576.4" y="278.2" width="41.5" height="3.9" fill="url(#silver)"/><rect x="583.60" y="278.80" width="24.10" height="0.80" fill="#b84a4a" /><rect x="590.00" y="280.60" width="14.00" height="0.90" fill="#777" /></g>
<text transform="translate(635.85 354.85) rotate(90) scale(1.022 1.010)" text-anchor="middle" font-size="13.1" font-weight="bold" fill="#fff">WP4000</text>
</svg>
</body></html>
